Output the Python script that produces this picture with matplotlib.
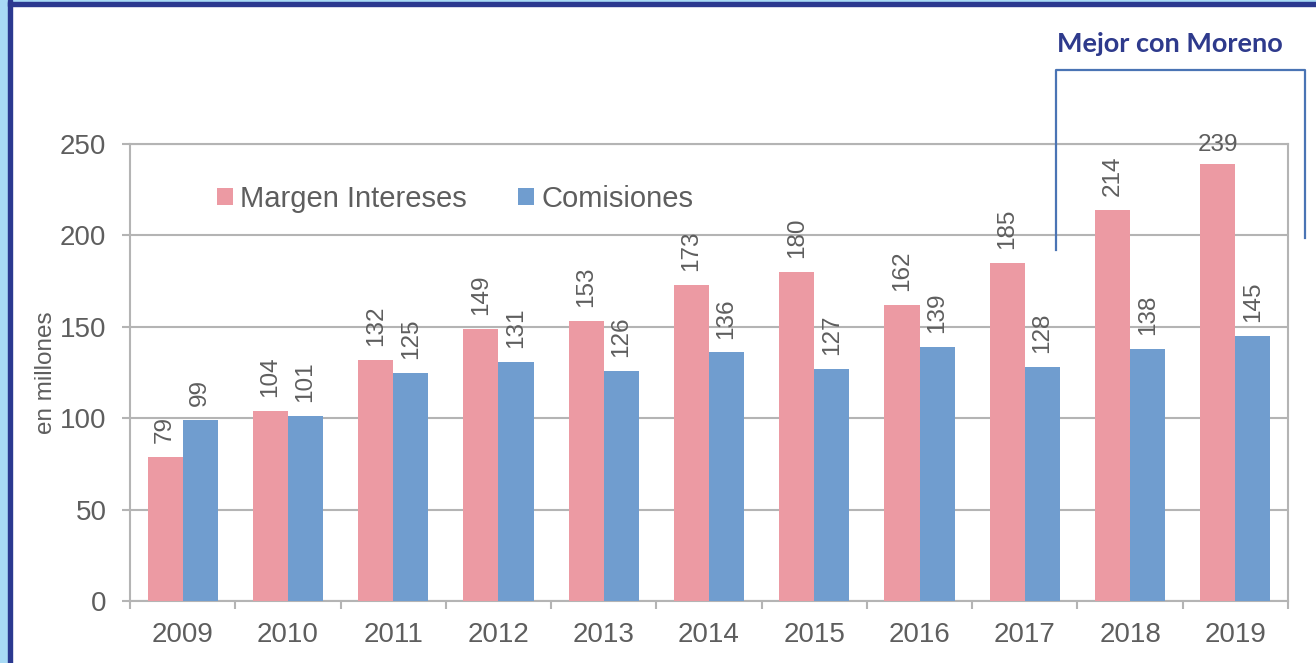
import matplotlib
matplotlib.use("Agg")
import matplotlib.pyplot as plt
import numpy as np
from matplotlib.patches import Rectangle
from matplotlib.lines import Line2D

years = ["2009", "2010", "2011", "2012", "2013", "2014", "2015", "2016", "2017", "2018", "2019"]
margen = [79, 104, 132, 149, 153, 173, 180, 162, 185, 214, 239]
comisiones = [99, 101, 125, 131, 126, 136, 127, 139, 128, 138, 145]
y_ticks = [0, 50, 100, 150, 200, 250]

PINK = "#EC9AA3"
BLUE = "#709DCF"
GRAY_TXT = "#5E5E5E"
GRID = "#B4B4B4"

plt.rcParams["font.family"] = ["Liberation Sans", "DejaVu Sans"]

W, H = 1316, 663
fig = plt.figure(figsize=(W / 100, H / 100), dpi=100)
ax = fig.add_axes([130 / W, 1 - 601 / H, (1288 - 130) / W, (601 - 144) / H])

x = np.arange(len(years))
bw = 1 / 3
b1 = ax.bar(x - bw / 2, margen, bw, color=PINK, label="Margen Intereses", zorder=3)
b2 = ax.bar(x + bw / 2, comisiones, bw, color=BLUE, label="Comisiones", zorder=3)

# value labels: rotated, except the last pink one which sits horizontal
for bars, vals in ((b1, margen), (b2, comisiones)):
    for i, (r, v) in enumerate(zip(bars, vals)):
        cx = r.get_x() + r.get_width() / 2
        if bars is b1 and i == len(vals) - 1:
            ax.annotate(str(v), (cx, v), xytext=(0, 6), textcoords="offset points",
                        ha="center", va="bottom", fontsize=17.5, color=GRAY_TXT, zorder=4)
        else:
            ax.annotate(str(v), (cx, v), xytext=(0, 10), textcoords="offset points",
                        ha="center", va="bottom", rotation=90, fontsize=17.5,
                        color=GRAY_TXT, zorder=4)

ax.set_xlim(-0.5, len(years) - 0.5)
ax.set_ylim(0, 250)
ax.set_yticks(y_ticks)
ax.set_xticks(x)
ax.set_xticklabels(years)
ax.set_xticks(np.arange(-0.5, len(years), 1), minor=True)
ax.tick_params(axis="x", which="major", length=0, pad=15, labelsize=20, labelcolor=GRAY_TXT)
ax.tick_params(axis="x", which="minor", length=6, width=1.5, color=GRID)
ax.tick_params(axis="y", length=6, width=1.5, color=GRID, pad=11, labelsize=20,
               labelcolor=GRAY_TXT)
ax.yaxis.grid(True, color=GRID, linewidth=1.5, zorder=0)
ax.set_axisbelow(True)
for s in ax.spines.values():
    s.set_color(GRID)
    s.set_linewidth(1.5)

ax.set_ylabel("en millones", fontsize=17.5, color=GRAY_TXT)
ax.yaxis.set_label_coords(-0.063, 0.5)

ax.legend(loc="center left", bbox_to_anchor=(0.075, 0.88), ncol=2, frameon=False,
          fontsize=21, labelcolor=GRAY_TXT, handlelength=0.55, handleheight=0.55,
          handletextpad=0.25, columnspacing=1.75, borderpad=0, borderaxespad=0)

# frame decoration on the left and top edges
fig.patches.append(Rectangle((0, 0), 8 / W, 1, transform=fig.transFigure,
                             color="#A8DAF5", zorder=0))
fig.patches.append(Rectangle((8 / W, 0), 4 / W, 1, transform=fig.transFigure,
                             color="#2B3990", zorder=1))
fig.patches.append(Rectangle((0, 1 - 2 / H), 1, 2 / H, transform=fig.transFigure,
                             color="#A8DAF5", zorder=0))
fig.patches.append(Rectangle((8 / W, 1 - 6 / H), 1, 4 / H, transform=fig.transFigure,
                             color="#2B3990", zorder=1))

# bracket and note
BR = "#4A74B4"
fig.lines.append(Line2D([1056 / W, 1056 / W, 1305 / W, 1305 / W],
                        [1 - 250 / H, 1 - 70 / H, 1 - 70 / H, 1 - 238 / H],
                        transform=fig.transFigure, color=BR, linewidth=1.6))
fig.text(1170 / W, 1 - 44 / H, "Mejor con Moreno", ha="center", va="center",
         fontsize=19.5, color="#2E3A8C", family=["Lato", "DejaVu Sans"], weight="bold")

fig.savefig("out.png", dpi=100)
